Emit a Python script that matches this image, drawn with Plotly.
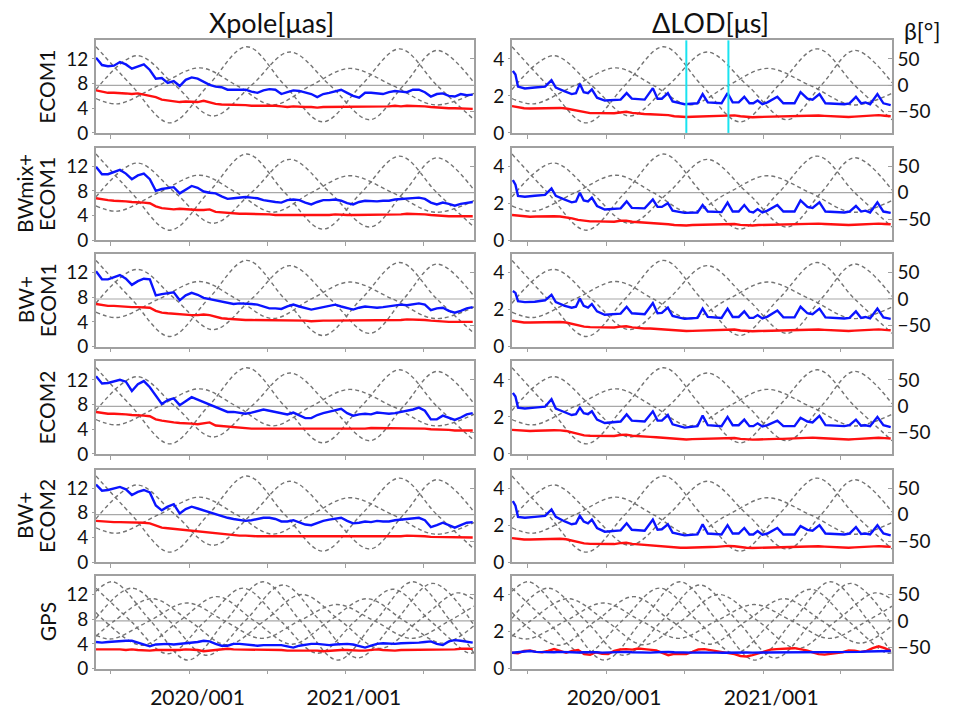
import pandas as pd
import plotly.graph_objects as go

START = pd.Timestamp("2019-05-27")
STEP = 14          # days between samples of the regular series
END_DAY = 885

ROW_NAMES = [["ECOM1"], ["BWmix+", "ECOM1"], ["BW+", "ECOM1"], ["ECOM2"], ["BW+", "ECOM2"], ["GPS"]]
TICK_DATES = ["2019-07-01", "2020-01-01", "2020-07-01", "2021-01-01", "2021-07-01"]
TICK_TEXT = ["", "2020/001", "", "2021/001", ""]
XP_TICKS = [0, 4, 8, 12]
LOD_TICKS = [0, 2, 4]
BETA_TICKS = [-50, 0, 50]
CYAN_DAYS = [406, 504]

# ---- beta angles (day offset from START, degrees) ----
GAL_B1_DAY = [0, 83, 173, 263, 353, 442, 531, 621, 711, 798, 885]
GAL_B1 = [73, 0, -71, 0, 73, 0, -69, 0, 69, 0, -65]
GAL_B2_DAY = [0, 96, 185, 274, 364, 454, 548, 641, 720, 798, 885]
GAL_B2 = [-8, 56, 0, -58, 0, 63, 0, -65, 0, 66, 5]
GAL_B3_DAY = [0, 51, 147, 243, 329, 414, 504, 594, 694, 793, 885]
GAL_B3 = [-25, -35, 0, 33, 0, -37, 0, 32, 0, -37, -15]

GPS_BA_DAY = [0, 40, 128, 215, 303, 391, 479, 566, 654, 742, 830, 885]
GPS_BA = [56, 74, 0, -74, 0, 74, 0, -74, 0, 74, 0, -61]
GPS_BB_DAY = [0, 84, 172, 260, 349, 438, 525, 613, 701, 789, 885]
GPS_BB = [5, 62, 0, -65, 0, 68, 0, -70, 0, 71, -8]
GPS_BC_DAY = [0, 43, 131, 219, 307, 394, 482, 573, 665, 755, 845, 885]
GPS_BC = [-29, 0, 42, 0, -45, 0, 50, 0, -52, 0, 53, 40]
GPS_BD_DAY = [0, 37, 125, 213, 301, 388, 476, 564, 652, 739, 827, 885]
GPS_BD = [-27, -34, 0, 34, 0, -33, 0, 31, 0, -33, 0, 28]
GPS_BE_DAY = [0, 20, 108, 195, 283, 371, 459, 546, 634, 722, 810, 885]
GPS_BE = [16, 0, -46, 0, 46, 0, -44, 0, 42, 0, -42, -9]
GPS_BF_DAY = [0, 81, 168, 256, 344, 432, 519, 607, 695, 783, 870, 885]
GPS_BF = [62, 0, -62, 0, 62, 0, -61, 0, 60, 0, -60, -60]

# ---- Xpole [uas], sampled every 14 days ----
XP_BLUE_1 = [12.2, 11.0, 10.8, 10.9, 11.5, 11.1, 10.4, 10.7, 11.1, 10.2, 8.8, 8.9, 8.1, 8.4, 7.6, 8.6, 9.0, 8.8, 8.3, 7.8,
             7.5, 7.4, 7.0, 7.0, 7.1, 7.0, 6.7, 6.5, 6.9, 7.1, 7.0, 6.3, 6.6, 6.9, 6.8, 6.5, 6.3, 5.8, 6.3, 6.5,
             6.8, 7.0, 6.5, 6.0, 5.7, 6.5, 6.5, 6.4, 6.3, 6.6, 6.8, 6.7, 6.6, 7.0, 7.0, 6.6, 5.9, 6.3, 6.4, 6.0,
             5.9, 6.3, 6.1, 6.2]
XP_RED_1 = [6.9, 6.7, 6.5, 6.5, 6.5, 6.4, 6.3, 6.4, 6.2, 6.0, 5.8, 5.4, 5.3, 5.2, 5.0, 5.1, 5.0, 5.0, 5.2, 4.9,
            4.7, 4.6, 4.6, 4.5, 4.6, 4.5, 4.4, 4.4, 4.4, 4.5, 4.4, 4.3, 4.2, 4.3, 4.2, 4.2, 4.2, 4.1, 4.2, 4.2,
            4.3, 4.3, 4.2, 4.2, 4.3, 4.2, 4.3, 4.3, 4.2, 4.3, 4.4, 4.3, 4.4, 4.4, 4.4, 4.3, 4.2, 4.1, 4.1, 4.0,
            4.0, 4.0, 4.0, 3.9]
XP_BLUE_2 = [11.9, 10.7, 10.7, 11.0, 11.4, 10.8, 9.9, 10.5, 10.8, 9.9, 8.0, 8.3, 8.5, 8.6, 7.6, 8.2, 8.8, 8.5, 7.9, 7.7,
             7.6, 7.1, 6.7, 6.8, 6.9, 7.0, 6.9, 6.8, 6.5, 6.3, 6.2, 6.1, 6.5, 6.6, 6.5, 6.1, 5.8, 6.2, 6.5, 6.5,
             6.6, 6.4, 6.0, 5.8, 6.2, 6.4, 6.3, 6.3, 6.4, 6.4, 6.6, 6.7, 6.7, 6.8, 6.9, 6.7, 6.1, 5.8, 6.1, 5.9,
             5.6, 5.9, 6.1, 6.2]
XP_RED_2 = [6.8, 6.6, 6.5, 6.4, 6.4, 6.3, 6.2, 6.2, 6.1, 6.0, 5.5, 5.2, 5.1, 5.0, 5.1, 5.0, 4.9, 4.9, 4.9, 5.0,
            4.6, 4.5, 4.4, 4.4, 4.3, 4.3, 4.3, 4.2, 4.2, 4.2, 4.1, 4.1, 4.1, 4.1, 4.1, 4.1, 4.0, 4.1, 4.1, 4.1,
            4.2, 4.1, 4.1, 4.1, 4.1, 4.1, 4.2, 4.2, 4.1, 4.2, 4.2, 4.2, 4.3, 4.3, 4.2, 4.2, 4.1, 4.0, 4.0, 3.9,
            3.9, 3.9, 3.9, 3.9]
XP_BLUE_3 = [12.2, 10.9, 10.9, 11.2, 11.6, 11.0, 10.0, 10.6, 11.0, 10.9, 8.3, 8.5, 8.6, 8.8, 7.5, 8.3, 8.7, 8.4, 7.9, 7.7,
             7.5, 7.2, 7.0, 6.9, 7.0, 7.0, 6.9, 6.8, 6.5, 6.2, 6.2, 6.1, 6.5, 6.8, 6.5, 6.2, 6.0, 6.2, 6.4, 6.6,
             6.8, 6.5, 6.2, 6.0, 6.3, 6.5, 6.4, 6.3, 6.4, 6.5, 6.7, 6.8, 6.7, 6.9, 7.0, 6.8, 5.9, 6.2, 6.3, 5.8,
             5.5, 5.8, 6.2, 6.4]
XP_RED_3 = [6.9, 6.7, 6.6, 6.6, 6.5, 6.5, 6.4, 6.4, 6.4, 6.3, 5.8, 5.5, 5.4, 5.3, 5.3, 5.2, 5.1, 5.1, 5.2, 5.1,
            4.8, 4.6, 4.5, 4.4, 4.4, 4.3, 4.3, 4.3, 4.2, 4.2, 4.2, 4.2, 4.2, 4.2, 4.2, 4.2, 4.1, 4.2, 4.2, 4.2,
            4.2, 4.2, 4.3, 4.2, 4.2, 4.2, 4.3, 4.3, 4.2, 4.3, 4.3, 4.3, 4.4, 4.4, 4.4, 4.3, 4.2, 4.1, 4.1, 4.0,
            4.0, 4.0, 4.0, 4.0]
XP_BLUE_4 = [12.6, 11.4, 11.5, 11.7, 12.0, 11.7, 10.2, 11.3, 11.8, 10.8, 9.5, 8.1, 8.7, 9.0, 7.9, 8.6, 9.2, 8.8, 8.4, 7.9,
             7.6, 7.2, 6.8, 6.8, 6.6, 6.5, 6.7, 7.0, 7.2, 7.0, 6.8, 6.5, 6.4, 6.7, 6.2, 5.8, 5.8, 6.3, 6.6, 6.8,
             7.0, 7.3, 6.6, 6.2, 6.4, 6.5, 6.4, 6.7, 6.6, 6.5, 6.6, 6.8, 6.9, 7.2, 7.5, 7.0, 5.6, 5.6, 6.2, 5.9,
             5.5, 5.9, 6.4, 6.6]
XP_RED_4 = [6.8, 6.6, 6.5, 6.5, 6.5, 6.4, 6.3, 6.3, 6.2, 6.1, 5.6, 5.4, 5.2, 5.1, 5.0, 5.0, 4.9, 4.8, 5.0, 5.1,
            4.6, 4.5, 4.4, 4.3, 4.2, 4.2, 4.1, 4.1, 4.1, 4.1, 4.1, 4.1, 4.1, 4.0, 4.1, 4.1, 4.0, 4.1, 4.1, 4.1,
            4.1, 4.1, 4.1, 4.1, 4.1, 4.1, 4.2, 4.2, 4.2, 4.2, 4.2, 4.2, 4.2, 4.2, 4.2, 4.1, 4.0, 4.0, 3.9, 3.9,
            3.8, 3.8, 3.8, 3.8]
XP_BLUE_5 = [12.6, 11.6, 11.7, 11.9, 12.2, 11.8, 10.9, 11.4, 11.7, 11.3, 9.2, 8.4, 9.0, 9.4, 7.9, 8.6, 9.0, 8.7, 8.4, 8.0,
             7.8, 7.4, 7.2, 7.0, 6.8, 6.7, 6.8, 7.0, 7.2, 7.2, 7.0, 6.6, 6.6, 6.8, 6.4, 6.1, 6.0, 6.4, 6.7, 6.9,
             7.0, 7.2, 6.7, 6.3, 6.4, 6.6, 6.5, 6.7, 6.6, 6.6, 6.8, 6.9, 7.0, 7.1, 7.2, 6.8, 5.7, 6.0, 6.4, 6.0,
             5.6, 6.0, 6.4, 6.5]
XP_RED_5 = [6.7, 6.6, 6.5, 6.5, 6.5, 6.5, 6.4, 6.4, 6.4, 6.3, 5.9, 5.6, 5.5, 5.4, 5.3, 5.2, 5.0, 4.9, 4.9, 4.8,
            4.6, 4.5, 4.4, 4.3, 4.3, 4.3, 4.2, 4.2, 4.2, 4.2, 4.2, 4.2, 4.2, 4.1, 4.2, 4.2, 4.1, 4.2, 4.2, 4.2,
            4.2, 4.2, 4.2, 4.2, 4.2, 4.2, 4.2, 4.2, 4.2, 4.2, 4.2, 4.2, 4.3, 4.3, 4.3, 4.2, 4.1, 4.1, 4.0, 4.0,
            4.0, 4.0, 4.0, 4.0]
XP_BLUE_GPS = [4.3, 4.2, 4.3, 4.4, 4.4, 4.5, 4.5, 4.2, 3.8, 3.6, 3.9, 4.0, 4.0, 3.9, 4.0, 4.0, 4.1, 4.3, 4.5, 4.4,
               4.0, 3.7, 3.7, 4.0, 4.0, 3.9, 3.8, 3.7, 3.8, 3.8, 3.7, 3.8, 3.6, 3.4, 3.7, 3.9, 4.0, 4.0, 3.9, 3.8,
               3.9, 4.0, 4.0, 3.9, 3.6, 3.4, 3.7, 4.0, 4.1, 4.0, 4.0, 4.1, 4.1, 4.2, 4.2, 4.3, 4.4, 4.0, 3.8, 4.4,
               4.6, 4.5, 4.3, 4.2]
XP_RED_GPS = [3.1, 3.1, 3.2, 3.1, 3.1, 3.0, 3.1, 3.0, 2.9, 2.9, 3.0, 3.0, 3.0, 2.9, 3.0, 3.1, 3.1, 3.0, 2.8, 2.9,
              3.0, 3.1, 3.2, 3.1, 3.1, 3.0, 3.1, 3.1, 3.0, 3.0, 3.0, 3.0, 2.9, 2.9, 3.0, 3.0, 2.9, 2.9, 2.8, 2.9,
              3.0, 3.0, 3.0, 2.9, 2.9, 2.9, 3.0, 3.1, 3.0, 2.9, 2.9, 3.0, 3.0, 3.0, 3.0, 3.1, 3.1, 3.0, 3.0, 3.1,
              3.1, 3.2, 3.2, 3.2]

# ---- dLOD [us]: blue sampled at irregular days (peaks), red every 14 days ----
LOD_DAY = [2, 8, 14, 30, 53, 77, 92, 102, 123, 139, 149, 158, 167, 177, 186, 198, 216, 239, 253, 267,
           279, 309, 328, 339, 349, 363, 374, 402, 432, 444, 456, 488, 502, 514, 528, 541, 553, 562, 572, 583,
           595, 618, 632, 658, 672, 688, 700, 716, 730, 774, 786, 801, 813, 823, 834, 851, 865, 882]
LOD_BLUE_1 = [3.35, 3.15, 2.5, 2.4, 2.45, 2.5, 2.85, 2.45, 2.25, 2.1, 2.15, 2.65, 2.2, 2.15, 2.35, 1.9, 1.75, 1.8, 1.8, 2.15,
              1.85, 1.8, 2.42, 1.85, 1.85, 2.15, 1.7, 1.55, 1.6, 2.1, 1.65, 1.6, 2.15, 1.65, 1.65, 1.95, 1.6, 1.6, 1.75, 1.55,
              1.65, 1.95, 1.6, 1.6, 2.2, 1.85, 1.8, 2.1, 1.6, 1.55, 1.6, 1.95, 1.6, 1.65, 1.55, 2.1, 1.6, 1.5]
LOD_BLUE_2 = [3.25, 3.0, 2.4, 2.35, 2.4, 2.45, 2.8, 2.4, 2.2, 2.05, 2.1, 2.57, 2.15, 2.1, 2.3, 1.85, 1.66, 1.7, 1.72, 2.1,
              1.75, 1.72, 2.2, 1.8, 1.8, 2.0, 1.6, 1.48, 1.5, 1.9, 1.55, 1.52, 2.03, 1.55, 1.55, 1.9, 1.55, 1.5, 1.68, 1.5,
              1.6, 1.9, 1.55, 1.55, 2.15, 1.8, 1.75, 2.05, 1.55, 1.5, 1.55, 1.85, 1.55, 1.6, 1.5, 2.05, 1.55, 1.48]
LOD_BLUE_3 = [3.0, 2.9, 2.45, 2.4, 2.42, 2.5, 2.8, 2.4, 2.2, 2.1, 2.15, 2.6, 2.2, 2.1, 2.3, 1.9, 1.72, 1.75, 1.78, 2.15,
              1.8, 1.75, 2.35, 1.8, 1.82, 2.1, 1.65, 1.5, 1.55, 2.05, 1.6, 1.55, 2.05, 1.6, 1.6, 1.9, 1.55, 1.55, 1.7, 1.52,
              1.62, 1.95, 1.58, 1.58, 2.15, 1.8, 1.75, 2.05, 1.58, 1.52, 1.55, 1.9, 1.55, 1.6, 1.52, 2.05, 1.58, 1.5]
LOD_BLUE_4 = [3.3, 3.1, 2.5, 2.45, 2.5, 2.55, 2.95, 2.45, 2.25, 2.1, 2.15, 2.5, 2.2, 2.15, 2.3, 1.85, 1.67, 1.72, 1.75, 2.13,
              1.8, 1.75, 2.3, 1.8, 1.8, 2.1, 1.6, 1.42, 1.5, 2.07, 1.55, 1.5, 2.0, 1.55, 1.55, 1.85, 1.5, 1.5, 1.65, 1.48,
              1.55, 1.8, 1.5, 1.5, 1.95, 1.75, 1.7, 2.05, 1.55, 1.5, 1.55, 1.85, 1.52, 1.55, 1.5, 2.0, 1.55, 1.45]
LOD_BLUE_5 = [3.3, 3.05, 2.45, 2.4, 2.45, 2.5, 2.85, 2.45, 2.2, 2.05, 2.1, 2.5, 2.2, 2.1, 2.3, 1.85, 1.65, 1.7, 1.72, 2.1,
              1.75, 1.7, 2.3, 1.75, 1.78, 2.05, 1.6, 1.45, 1.5, 2.05, 1.55, 1.5, 2.0, 1.55, 1.55, 1.85, 1.5, 1.5, 1.68, 1.48,
              1.55, 1.85, 1.5, 1.5, 1.95, 1.75, 1.7, 2.0, 1.55, 1.5, 1.55, 1.9, 1.52, 1.55, 1.5, 2.0, 1.55, 1.45]
LOD_RED_1 = [1.45, 1.38, 1.33, 1.32, 1.33, 1.35, 1.36, 1.36, 1.35, 1.32, 1.25, 1.2, 1.1, 1.07, 1.07, 1.06, 1.06, 1.06, 1.1, 1.14,
             1.08, 1.04, 1.02, 1.01, 1.0, 0.98, 0.96, 0.9, 0.86, 0.86, 0.87, 0.88, 0.88, 0.89, 0.9, 0.94, 0.96, 0.95, 0.9, 0.86,
             0.85, 0.86, 0.87, 0.88, 0.88, 0.88, 0.9, 0.92, 0.94, 0.95, 0.96, 0.94, 0.92, 0.9, 0.88, 0.86, 0.86, 0.88, 0.9, 0.92,
             0.94, 0.96, 0.93, 0.9]
LOD_RED_2 = [1.36, 1.32, 1.28, 1.27, 1.28, 1.3, 1.31, 1.3, 1.28, 1.25, 1.18, 1.1, 1.04, 1.02, 1.02, 1.02, 1.0, 1.0, 1.05, 1.05,
             1.0, 0.98, 0.95, 0.95, 0.93, 0.9, 0.86, 0.82, 0.8, 0.8, 0.82, 0.83, 0.83, 0.84, 0.85, 0.88, 0.9, 0.88, 0.83, 0.8,
             0.8, 0.82, 0.83, 0.84, 0.84, 0.84, 0.86, 0.88, 0.9, 0.9, 0.92, 0.9, 0.88, 0.86, 0.84, 0.82, 0.82, 0.84, 0.86, 0.88,
             0.9, 0.9, 0.88, 0.86]
LOD_RED_3 = [1.4, 1.34, 1.3, 1.3, 1.31, 1.33, 1.34, 1.34, 1.33, 1.3, 1.22, 1.15, 1.08, 1.05, 1.05, 1.04, 1.03, 1.03, 1.08, 1.1,
             1.04, 1.0, 0.98, 0.98, 0.96, 0.93, 0.9, 0.86, 0.84, 0.84, 0.85, 0.86, 0.86, 0.87, 0.88, 0.92, 0.94, 0.92, 0.87, 0.84,
             0.83, 0.84, 0.85, 0.86, 0.86, 0.86, 0.88, 0.9, 0.92, 0.93, 0.94, 0.92, 0.9, 0.88, 0.86, 0.84, 0.84, 0.86, 0.88, 0.9,
             0.92, 0.93, 0.9, 0.88]
LOD_RED_4 = [1.3, 1.27, 1.24, 1.24, 1.25, 1.27, 1.28, 1.28, 1.27, 1.24, 1.16, 1.08, 1.0, 0.98, 0.98, 0.98, 0.97, 0.97, 1.02, 1.04,
             0.98, 0.95, 0.93, 0.92, 0.9, 0.88, 0.84, 0.8, 0.78, 0.78, 0.8, 0.81, 0.81, 0.82, 0.83, 0.86, 0.88, 0.86, 0.81, 0.78,
             0.77, 0.78, 0.8, 0.81, 0.81, 0.81, 0.83, 0.85, 0.87, 0.88, 0.88, 0.86, 0.84, 0.82, 0.8, 0.78, 0.78, 0.8, 0.82, 0.84,
             0.86, 0.87, 0.85, 0.83]
LOD_RED_5 = [1.3, 1.26, 1.23, 1.23, 1.24, 1.26, 1.28, 1.28, 1.27, 1.24, 1.16, 1.09, 1.02, 0.99, 0.99, 0.98, 0.97, 0.98, 1.03, 1.05,
             0.99, 0.96, 0.93, 0.92, 0.9, 0.88, 0.84, 0.8, 0.78, 0.78, 0.8, 0.81, 0.81, 0.82, 0.83, 0.86, 0.88, 0.86, 0.81, 0.78,
             0.77, 0.78, 0.8, 0.81, 0.81, 0.81, 0.83, 0.85, 0.87, 0.88, 0.88, 0.86, 0.84, 0.82, 0.8, 0.78, 0.78, 0.8, 0.82, 0.84,
             0.86, 0.87, 0.85, 0.83]
LOD_BLUE_GPS = [0.85, 0.87, 0.93, 0.95, 0.9, 0.88, 0.87, 0.88, 0.9, 0.88, 0.86, 0.87, 0.88, 0.9, 0.88, 0.86, 0.87, 0.9, 0.92, 0.9,
                0.88, 0.87, 0.86, 0.86, 0.88, 0.9, 0.9, 0.88, 0.86, 0.85, 0.86, 0.87, 0.88, 0.88, 0.86, 0.85, 0.86, 0.87, 0.88, 0.87,
                0.86, 0.86, 0.87, 0.88, 0.87, 0.86, 0.86, 0.87, 0.88, 0.88, 0.87, 0.86, 0.87, 0.88, 0.89, 0.9, 0.9, 0.89, 0.9, 0.92,
                0.93, 0.95, 0.96, 0.95]
LOD_RED_GPS = [0.85, 0.82, 0.95, 0.98, 0.9, 0.88, 0.95, 1.05, 0.95, 0.85, 0.95, 1.0, 0.78, 0.75, 0.88, 0.8, 0.78, 0.95, 1.03, 1.05,
               1.02, 1.08, 1.05, 1.0, 0.98, 0.85, 0.72, 0.8, 0.8, 0.78, 0.9, 1.03, 1.05, 1.0, 0.95, 0.92, 0.85, 0.78, 0.68, 0.65,
               0.72, 0.82, 0.9, 1.02, 1.05, 1.05, 1.08, 1.1, 1.05, 0.98, 0.88, 0.78, 0.75, 0.8, 0.82, 0.88, 0.98, 0.97, 0.9, 0.95,
               1.1, 1.2, 1.1, 0.95]

# ---------------------------------------------------------------------------
W, H = 957, 714
COL_PX = [(96, 474), (512, 892)]
ROW_TOP = [41, 150, 258, 367, 477, 585]
ROW_H = 94
FONT = "Lato, 'Noto Sans', sans-serif"
TXT = "#111111"
BLUE, RED, GRAY, FRAME = "#0a14ff", "#ff1010", "#737373", "#a0a0a0"


def to_dates(days):
    return [START + pd.Timedelta(days=float(d)) for d in days]


def grid_dates(values):
    return [START + pd.Timedelta(days=STEP * k) for k in range(len(values))]


GAL_BETAS = [(GAL_B1_DAY, GAL_B1), (GAL_B2_DAY, GAL_B2), (GAL_B3_DAY, GAL_B3)]
GPS_BETAS = [(GPS_BA_DAY, GPS_BA), (GPS_BB_DAY, GPS_BB), (GPS_BC_DAY, GPS_BC),
             (GPS_BD_DAY, GPS_BD), (GPS_BE_DAY, GPS_BE), (GPS_BF_DAY, GPS_BF)]
XP_ROWS = [(XP_BLUE_1, XP_RED_1), (XP_BLUE_2, XP_RED_2), (XP_BLUE_3, XP_RED_3),
           (XP_BLUE_4, XP_RED_4), (XP_BLUE_5, XP_RED_5), (XP_BLUE_GPS, XP_RED_GPS)]
LOD_ROWS = [(LOD_BLUE_1, LOD_RED_1), (LOD_BLUE_2, LOD_RED_2), (LOD_BLUE_3, LOD_RED_3),
            (LOD_BLUE_4, LOD_RED_4), (LOD_BLUE_5, LOD_RED_5), (LOD_BLUE_GPS, LOD_RED_GPS)]

fig = go.Figure()
layout = dict(width=W, height=H, margin=dict(l=0, r=0, t=0, b=0),
              paper_bgcolor="white", plot_bgcolor="white", showlegend=False,
              font=dict(family=FONT, size=19, color=TXT))
shapes, annotations = [], []
x_range = [START, START + pd.Timedelta(days=END_DAY)]

for r in range(6):
    for c in range(2):
        idx = r * 2 + c + 1
        bidx = idx              # beta axis (base)
        didx = idx + 12         # data axis (overlay)
        xname = "xaxis" if idx == 1 else f"xaxis{idx}"
        xref = "x" if idx == 1 else f"x{idx}"
        bname = "yaxis" if bidx == 1 else f"yaxis{bidx}"
        bref = "y" if bidx == 1 else f"y{bidx}"
        dname = f"yaxis{didx}"
        dref = f"y{didx}"
        x0, x1 = COL_PX[c]
        top = ROW_TOP[r]
        ydom = [1 - (top + ROW_H) / H, 1 - top / H]

        layout[xname] = dict(domain=[x0 / W, x1 / W], anchor=bref, type="date", range=x_range,
                             tickvals=TICK_DATES, ticktext=TICK_TEXT, showticklabels=(r == 5),
                             ticks="outside", ticklen=4, tickcolor=FRAME, tickwidth=1.2,
                             showline=True, mirror=True, linecolor=FRAME, linewidth=1.5,
                             showgrid=False, zeroline=False, ticklabelshift=8,
                             ticklabelstandoff=6, tickfont=dict(size=21, color=TXT))
        layout[bname] = dict(domain=ydom, anchor=xref, range=[-90, 85], side="right",
                             tickvals=BETA_TICKS, showticklabels=(c == 1),
                             ticks="inside", ticklen=4, tickcolor=FRAME,
                             showline=True, mirror=True, linecolor=FRAME, linewidth=1.5,
                             showgrid=False, zeroline=False, tickfont=dict(size=19, color=TXT))
        if c == 0:
            drange, dticks = [0, 15], XP_TICKS
        else:
            drange, dticks = [0, 5], LOD_TICKS
        layout[dname] = dict(domain=ydom, anchor=xref, overlaying=bref, side="left",
                             range=drange, tickvals=dticks, ticks="outside", ticklen=3,
                             tickcolor=FRAME, showline=False, showgrid=False, zeroline=False,
                             tickfont=dict(size=19, color=TXT))

        # beta = 0 reference line
        shapes.append(dict(type="line", xref=f"{xref} domain", yref=bref, x0=0, x1=1, y0=0, y1=0,
                           line=dict(color="#a8a8a8", width=1.2), layer="below"))

        betas = GPS_BETAS if r == 5 else GAL_BETAS
        for bd, bv in betas:
            fig.add_trace(go.Scatter(x=to_dates(bd), y=bv, xaxis=xref, yaxis=bref, mode="lines",
                                     line=dict(color=GRAY, width=1.4, dash="4px,3px", shape="spline",
                                               smoothing=1.0),
                                     hoverinfo="skip"))
        if c == 0:
            blue, red = XP_ROWS[r]
            bx, rx = grid_dates(blue), grid_dates(red)
        else:
            blue, red = LOD_ROWS[r]
            bx = to_dates(LOD_DAY) if r < 5 else grid_dates(blue)
            rx = grid_dates(red)
        fig.add_trace(go.Scatter(x=rx, y=red, xaxis=xref, yaxis=dref, mode="lines",
                                 line=dict(color=RED, width=2.4)))
        fig.add_trace(go.Scatter(x=bx, y=blue, xaxis=xref, yaxis=dref, mode="lines",
                                 line=dict(color=BLUE, width=2.4)))

# cyan markers in first dLOD panel
for d in CYAN_DAYS:
    dt = START + pd.Timedelta(days=d)
    shapes.append(dict(type="line", xref="x2", yref="y2 domain", x0=dt, x1=dt, y0=0, y1=1,
                       line=dict(color="#19e3f0", width=2)))

# row labels (one annotation per text line)
for r, lines in enumerate(ROW_NAMES):
    cy = 1 - (ROW_TOP[r] + ROW_H / 2) / H
    xs = [25, 47] if len(lines) == 2 else [47]
    for txt, cx in zip(lines, xs):
        annotations.append(dict(text=txt, x=cx / W, y=cy, xref="paper", yref="paper",
                                showarrow=False, textangle=-90, xanchor="center", yanchor="middle",
                                font=dict(size=21, family=FONT, color=TXT)))

for txt, cx, cy, size in [("Xpole[μas]", 271, 23, 27), ("ΔLOD[μs]", 710, 23, 27), ("β[°]", 922, 31, 23)]:
    annotations.append(dict(text=txt, x=cx / W, y=1 - cy / H, xref="paper", yref="paper",
                            xanchor="center", yanchor="middle", showarrow=False,
                            font=dict(size=size, family=FONT, color=TXT)))

layout["shapes"] = shapes
layout["annotations"] = annotations
fig.update_layout(**layout)
fig.write_html("out.html")
